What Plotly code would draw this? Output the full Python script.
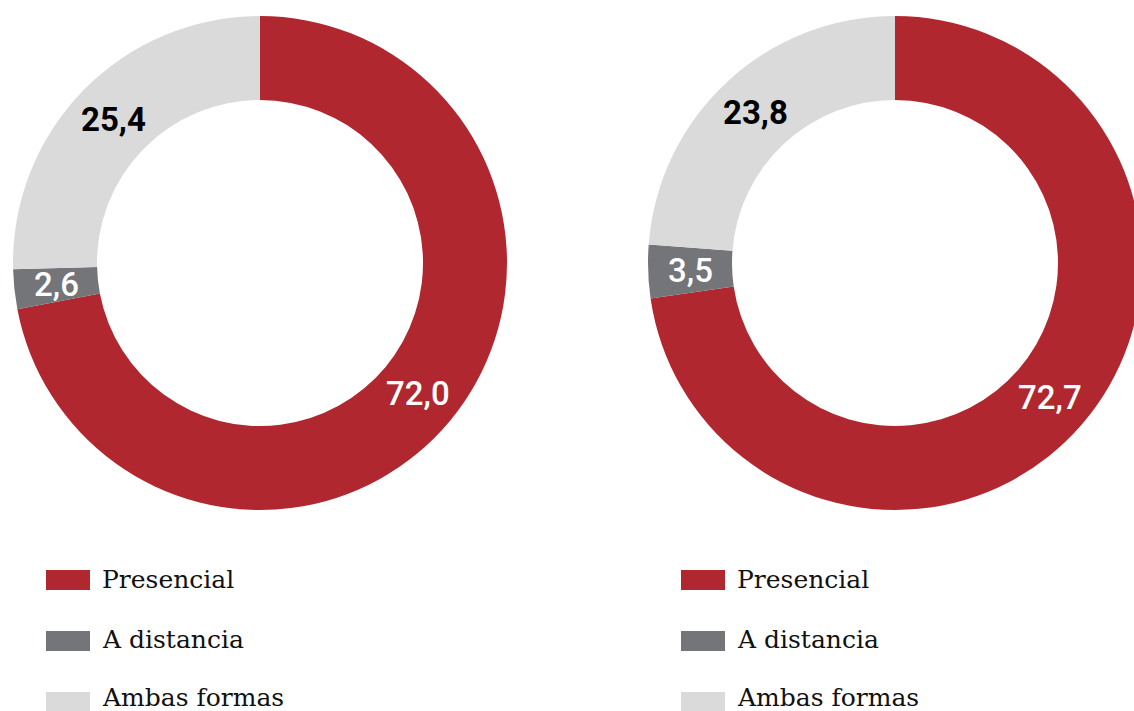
import math
import plotly.graph_objects as go

# ---- data ----
categories = ["Presencial", "A distancia", "Ambas formas"]
values_left = [72.0, 2.6, 25.4]
values_right = [72.7, 3.5, 23.8]
labels_left = ["72,0", "2,6", "25,4"]
labels_right = ["72,7", "3,5", "23,8"]

# ---- style ----
colors = ["#B1272F", "#737578", "#DADADA"]
label_colors = ["white", "white", "black"]
label_weights = [500, 500, 700]

W, H = 1150, 711          # slightly wider than the window so the right ring is clipped
R_OUT, R_IN = 247, 163
CY = 263
CX = [260, 895]

def px(x):
    return x / W

def py(y):
    return 1 - y / H

fig = go.Figure()
annotations = []
shapes = []

swatch_y = [580, 641, 702]
text_y = [579, 639, 697]

for k, (vals, labs) in enumerate([(values_left, labels_left), (values_right, labels_right)]):
    cx = CX[k]
    fig.add_trace(go.Pie(
        labels=categories, values=vals, sort=False, direction="clockwise", rotation=0,
        hole=R_IN / R_OUT, textinfo="none", hoverinfo="label+value",
        marker=dict(colors=colors, line=dict(width=0)),
        domain=dict(x=[px(cx - R_OUT), min(1, px(cx + R_OUT))],
                    y=[py(CY + R_OUT), py(CY - R_OUT)]),
        showlegend=False,
    ))
    # value labels at the middle of each ring segment
    total = sum(vals)
    cum = 0.0
    rmid = (R_IN + R_OUT) / 2
    for i, v in enumerate(vals):
        mid = (cum + v / 2) / total * 2 * math.pi
        cum += v
        lx = cx + rmid * math.sin(mid)
        ly = CY - rmid * math.cos(mid)
        annotations.append(dict(
            x=px(lx), y=py(ly), xref="paper", yref="paper", text=labs[i], showarrow=False,
            xanchor="center", yanchor="middle",
            font=dict(family="Roboto", size=33, color=label_colors[i], weight=label_weights[i]),
        ))
    # legend
    lx0 = [46, 681][k]
    for i, cat in enumerate(categories):
        shapes.append(dict(type="rect", xref="paper", yref="paper",
                           x0=px(lx0), x1=px(lx0 + 44),
                           y0=py(swatch_y[i] + 10), y1=py(swatch_y[i] - 10),
                           fillcolor=colors[i], line=dict(width=0)))
        annotations.append(dict(
            x=px(lx0 + 54), y=py(text_y[i]), xref="paper", yref="paper", text=cat,
            showarrow=False, xanchor="left", yanchor="middle",
            font=dict(family="DejaVu Serif", size=25, color="#111111"),
        ))

fig.update_layout(
    width=W, height=H, margin=dict(l=0, r=0, t=0, b=0),
    paper_bgcolor="white", plot_bgcolor="white",
    annotations=annotations, shapes=shapes, showlegend=False,
)

fig.write_html("out.html", config={"displayModeBar": False},
               post_script="document.body.style.margin='0';document.body.style.overflow='hidden';")
